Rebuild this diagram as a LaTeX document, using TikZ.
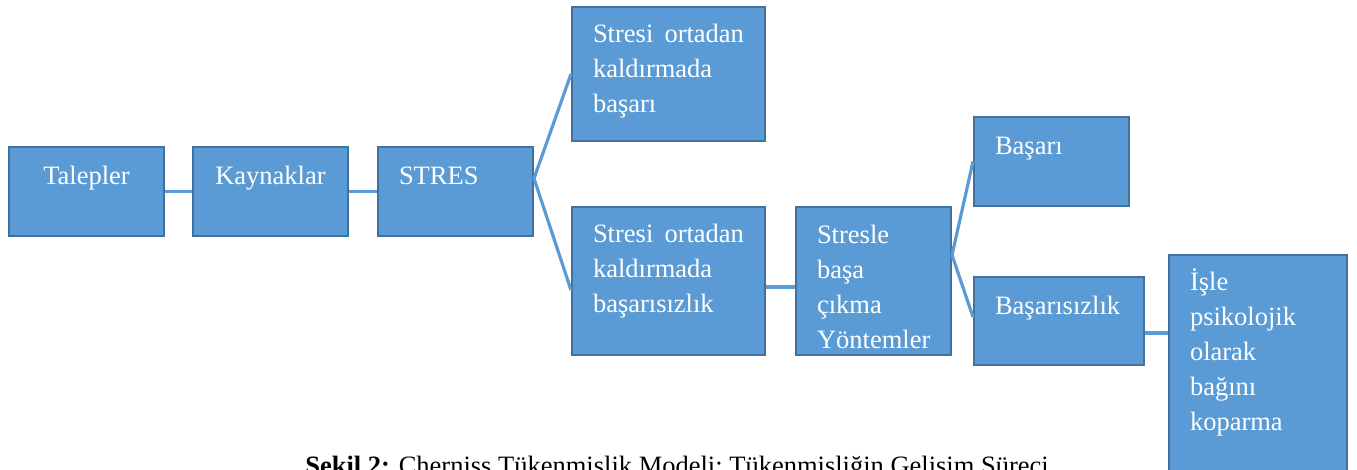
\documentclass[tikz,border=0pt]{standalone}
\usepackage{fontspec}
\setmainfont{Liberation Serif}
\usetikzlibrary{positioning}
\definecolor{boxfill}{HTML}{5B9BD5}
\definecolor{boxline}{HTML}{41719C}
\definecolor{linkblue}{HTML}{5B9BD5}
\newcommand{\boxfont}{\fontsize{13.25}{17.5}\selectfont}
\tikzset{
    block/.style = {draw=boxline, fill=boxfill, line width=1pt,
        text=white, font=\boxfont, anchor=north west,
        inner xsep=10.5pt, inner ysep=0pt,
        text height=19pt, align=left},
    smallblock/.style = {block, text width=56.5pt, text depth=25.5pt},
    link/.style = {draw=linkblue, line width=1.6pt},
}
\begin{document}
\begin{tikzpicture}[x=0.5pt, y=-0.5pt, node distance=13.5pt]
		\useasboundingbox (0,0) rectangle (1357,470);
		\clip (0,0) rectangle (1357,470);
		% Talepler
		\node [smallblock, align=center] (talepler) at (8,146) {Talepler};
		% Kaynaklar
		\node [smallblock, align=center, right=of talepler] (kaynaklar) {Kaynaklar};
		% STRES
		\node [smallblock, right=14pt of kaynaklar] (stres) {STRES};
		
		% success in removing stress
		\node [block, text width=75.5pt, text height=18pt, text depth=49pt] (basari1) at (571,6) {Stresi\hfill ortadan\\kaldırmada\\başarı};
		% failure in removing stress
		\node [block, text width=75.5pt, text height=18pt, text depth=56pt] (basarisizlik1) at (571,206) {Stresi\hfill ortadan\\kaldırmada\\başarısızlık};
		
		% coping methods
		\node [block, text width=56.5pt, text height=18.5pt, text depth=55.5pt] (stresle) at (795,206) {Stresle\\başa\\çıkma\\Yöntemler};
		
		% Basari
		\node [smallblock] (basari2) at (973,116) {Başarı};
		% Basarisizlik
		\node [block, text width=64pt, text depth=25pt] (basarisizlik2) at (973,276) {Başarısızlık};
		
		% detachment
		\node [block, text width=68pt, text height=18pt, text depth=100pt] (isle) at (1168,254) {İşle\\psikolojik\\olarak\\bağını\\koparma};
		
		% caption
		\node [anchor=base] (caption) at (677,475) {\boxfont\textbf{Şekil 2:} Cherniss Tükenmişlik Modeli; Tükenmişliğin Gelişim Süreci};
		
		% connecting lines
		\draw [link] (talepler) -- (kaynaklar);
		\draw [link] (kaynaklar) -- (stres);
		\draw [link] ([yshift=6.5pt]stres.east) -- (basari1.west);
		\draw [link] ([yshift=6.5pt]stres.east) -- ([yshift=-4.5pt]basarisizlik1.west);
		\draw [link] ([yshift=-3pt]basarisizlik1.east) -- ([yshift=-3pt]stresle.west);
		\draw [link] ([yshift=13pt]stresle.east) -- (basari2.west);
		\draw [link] ([yshift=13pt]stresle.east) -- ([yshift=2pt]basarisizlik2.west);
		\draw [link] ([yshift=-6pt]basarisizlik2.east) -- ([yshift=-6pt]basarisizlik2.east -| isle.west);
	\end{tikzpicture}
\end{document}
